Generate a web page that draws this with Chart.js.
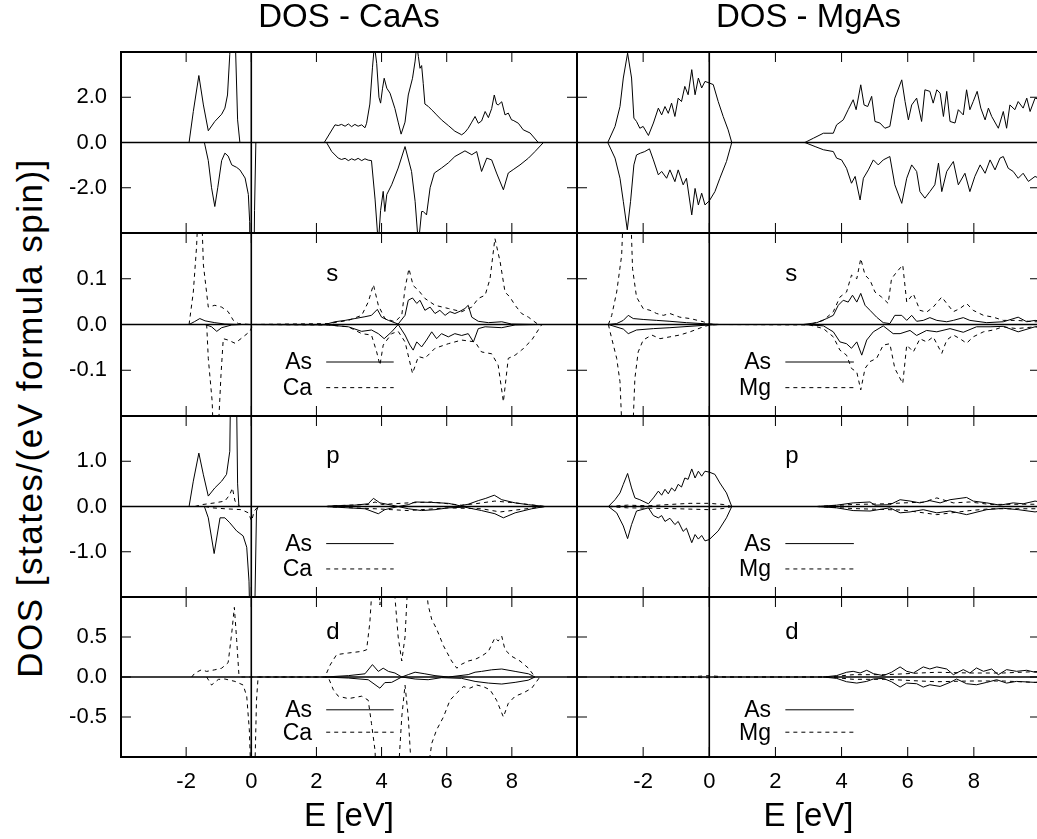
<!DOCTYPE html>
<html><head><meta charset="utf-8">
<script src="https://cdn.jsdelivr.net/npm/chart.js@4.4.1/dist/chart.umd.min.js"></script>
<style>
html,body{margin:0;padding:0;background:#fff;overflow:hidden}
#wrap{position:relative;width:1037px;height:839px;overflow:hidden;background:#fff}
#wrap canvas{position:absolute;left:0;top:0}
#ylab{position:absolute;left:30px;top:418px;transform:translate(-50%,-50%) rotate(-90deg);font:35px "Liberation Sans",Arial,sans-serif;letter-spacing:1.5px;white-space:nowrap;color:#000}
</style></head><body>
<div id="wrap"><div id="ylab">DOS [states/(eV formula spin)]</div></div>
<script>
// ---------- data: [E (eV), DOS] pairs ----------
const caTotUp = [[-1.91,0],[-1.78,1.37],[-1.61,2.96],[-1.47,1.66],[-1.32,0.52],[-1.12,0.93],[-0.91,1.25],[-0.81,1.52],[-0.73,2.1],[-0.66,3.9],[-0.62,6],[-0.52,6],[-0.48,4.0],[-0.42,1.0],[-0.35,0],
[2.24,0],[2.57,0.78],[2.67,0.75],[2.77,0.8],[2.88,0.72],[2.98,0.82],[3.08,0.7],[3.18,0.8],[3.28,0.72],[3.39,0.78],[3.49,0.65],[3.54,0.85],[3.64,1.7],[3.72,3.3],[3.78,4.3],[3.85,3.5],[3.92,2.0],[3.97,1.74],[4.03,2.4],[4.08,2.84],[4.16,2.4],[4.26,2.18],[4.41,1.5],[4.51,0.9],[4.60,0.37],[4.72,0.9],[4.82,2.1],[4.95,2.84],[5.03,3.6],[5.08,4.3],[5.13,3.8],[5.18,3.28],[5.23,3.4],[5.28,2.6],[5.33,1.7],[5.43,1.6],[5.54,1.44],[5.64,1.3],[5.69,1.22],[5.84,1.0],[6.05,0.75],[6.25,0.5],[6.46,0.34],[6.56,0.45],[6.66,0.63],[6.77,0.9],[6.87,1.15],[6.97,0.85],[7.07,0.95],[7.18,1.37],[7.28,1.1],[7.38,1.5],[7.46,2.1],[7.53,1.7],[7.58,1.66],[7.69,1.8],[7.79,1.22],[7.89,1.3],[7.99,1.0],[8.04,0.98],[8.20,0.85],[8.35,0.56],[8.56,0.42],[8.81,0]];
const caTotDn = [[-1.44,0],[-1.32,-0.8],[-1.22,-2.0],[-1.12,-2.83],[-1.03,-2.0],[-0.91,-0.8],[-0.81,-0.47],[-0.71,-0.6],[-0.6,-0.99],[-0.45,-1.1],[-0.35,-1.21],[-0.19,-1.57],[-0.09,-2.3],[-0.05,-3.5],[-0.03,-7],[0.07,-7],[0.1,-3],[0.14,0],
[2.31,0],[2.47,-0.4],[2.67,-0.69],[2.77,-0.75],[2.88,-0.7],[2.98,-0.8],[3.08,-0.72],[3.18,-0.78],[3.28,-0.7],[3.39,-0.8],[3.49,-0.72],[3.59,-0.78],[3.69,-0.8],[3.8,-2.5],[3.9,-4.5],[3.97,-3.0],[4.05,-2.16],[4.1,-3.05],[4.16,-2.3],[4.31,-1.87],[4.51,-1.13],[4.72,-0.18],[4.92,-1.28],[5.03,-2.6],[5.13,-4.5],[5.23,-3.05],[5.28,-3.05],[5.38,-3.2],[5.49,-2.0],[5.62,-1.35],[5.84,-1.13],[6.05,-0.9],[6.25,-0.62],[6.56,-0.37],[6.77,-0.54],[6.92,-0.4],[7.07,-1.28],[7.23,-0.69],[7.38,-0.77],[7.53,-1.35],[7.74,-2.09],[7.89,-1.35],[8.04,-1.2],[8.25,-0.99],[8.51,-0.69],[8.71,-0.4],[8.97,0]];
const mgTotUp = [[-3.07,0],[-2.85,0.71],[-2.7,1.59],[-2.6,2.85],[-2.47,3.95],[-2.35,2.85],[-2.28,1.08],[-2.2,0.93],[-2.1,0.63],[-2.0,0.71],[-1.84,0.31],[-1.69,0.86],[-1.54,1.52],[-1.44,1.22],[-1.34,1.59],[-1.24,1.29],[-1.14,1.74],[-1.04,1.15],[-0.94,1.96],[-0.84,1.81],[-0.74,2.48],[-0.64,2.11],[-0.53,3.22],[-0.43,2.11],[-0.33,2.85],[-0.23,2.41],[-0.13,2.7],[0,2.63],[0.12,2.56],[0.27,1.81],[0.42,1.15],[0.57,0.56],[0.68,0],
[2.89,0],[3.15,0.19],[3.45,0.41],[3.75,0.41],[3.85,0.78],[4.05,1.0],[4.2,1.45],[4.35,1.89],[4.44,1.45],[4.58,2.55],[4.68,1.66],[4.79,1.59],[4.91,2.04],[5.01,0.93],[5.16,0.86],[5.31,0.63],[5.46,0.71],[5.61,1.96],[5.82,2.77],[5.92,1.81],[6.02,1.0],[6.12,1.66],[6.27,1.96],[6.42,0.93],[6.52,2.33],[6.67,2.26],[6.77,1.74],[6.88,2.33],[6.98,2.18],[7.08,1.15],[7.18,2.26],[7.28,0.93],[7.43,0.86],[7.53,1.45],[7.68,1.22],[7.78,2.33],[7.88,1.45],[7.98,1.81],[8.1,2.26],[8.21,1.52],[8.34,1.0],[8.44,1.52],[8.54,1.15],[8.74,0.63],[8.89,1.37],[8.99,0.63],[9.09,1.66],[9.24,1.45],[9.34,1.81],[9.49,1.52],[9.6,1.96],[9.7,1.37],[9.85,1.96],[10,1.9]];
const mgTotDn = [[-3.07,0],[-2.85,-0.69],[-2.7,-1.58],[-2.6,-2.6],[-2.48,-3.86],[-2.38,-2.6],[-2.28,-0.99],[-2.2,-0.55],[-2.08,-0.47],[-1.95,-0.4],[-1.81,-0.28],[-1.69,-0.77],[-1.54,-1.43],[-1.44,-1.28],[-1.29,-1.58],[-1.19,-1.21],[-1.04,-1.73],[-0.94,-1.21],[-0.79,-1.87],[-0.69,-1.58],[-0.53,-3.2],[-0.43,-2.03],[-0.33,-2.76],[-0.23,-2.24],[-0.13,-2.76],[0,-2.58],[0.17,-2.17],[0.32,-1.58],[0.52,-0.84],[0.68,0],
[2.89,0],[3.2,-0.18],[3.45,-0.32],[3.75,-0.4],[3.85,-0.69],[4.0,-0.77],[4.15,-1.14],[4.3,-1.8],[4.41,-1.5],[4.56,-2.54],[4.66,-1.58],[4.81,-1.21],[4.96,-0.77],[5.11,-0.99],[5.26,-0.77],[5.46,-0.62],[5.61,-1.87],[5.82,-2.69],[5.97,-1.58],[6.12,-0.99],[6.27,-1.28],[6.37,-2.17],[6.52,-2.46],[6.67,-2.17],[6.82,-1.87],[6.93,-0.91],[7.03,-2.17],[7.18,-1.28],[7.38,-0.84],[7.53,-1.87],[7.73,-1.36],[7.88,-2.17],[8.03,-1.5],[8.19,-0.99],[8.34,-1.36],[8.49,-0.77],[8.64,-1.21],[8.79,-0.69],[8.89,-0.62],[9.04,-1.14],[9.19,-1.28],[9.34,-1.58],[9.49,-1.36],[9.65,-1.72],[9.85,-1.5],[10,-1.6]];

const caAsSUp = [[-1.91,0],[-1.75,0.006],[-1.58,0.013],[-1.42,0.008],[-1.12,0.004],[-0.81,0.001],[-0.4,0],
[2.26,0],[2.57,0.006],[2.88,0.009],[3.18,0.013],[3.49,0.017],[3.69,0.02],[3.87,0.033],[4.0,0.016],[4.21,0.009],[4.51,0.001],[4.72,0.02],[4.82,0.053],[4.95,0.058],[5.08,0.046],[5.18,0.053],[5.33,0.031],[5.49,0.038],[5.64,0.024],[5.79,0.031],[5.95,0.02],[6.1,0.028],[6.25,0.024],[6.41,0.029],[6.56,0.035],[6.66,0.042],[6.77,0.016],[6.97,0.007],[7.28,0.004],[7.69,0.006],[7.99,0.001],[8.81,0]];
const caAsSDn = [[-1.42,0],[-1.22,-0.005],[-1.06,-0.015],[-0.91,-0.007],[-0.6,-0.001],[-0.3,0],
[2.36,-0.001],[2.98,-0.005],[3.39,-0.015],[3.69,-0.012],[3.9,-0.02],[4.08,-0.031],[4.31,-0.016],[4.51,0],[4.72,-0.023],[4.87,-0.045],[4.97,-0.056],[5.08,-0.038],[5.23,-0.049],[5.38,-0.034],[5.54,-0.016],[5.69,-0.031],[5.84,-0.02],[6.05,-0.027],[6.25,-0.02],[6.46,-0.024],[6.66,-0.02],[6.82,-0.038],[6.97,-0.009],[7.18,-0.005],[7.69,-0.007],[8.1,-0.001],[8.8,0]];
const caCaSUp = [[-1.91,0],[-1.78,0.071],[-1.68,0.17],[-1.6,0.3],[-1.55,0.3],[-1.47,0.13],[-1.32,0.038],[-1.12,0.042],[-0.91,0.038],[-0.71,0.028],[-0.55,0.009],[-0.4,0.002],[-0.04,0],
[2.36,0.002],[2.98,0.009],[3.39,0.02],[3.59,0.049],[3.75,0.087],[3.9,0.042],[4.1,0.013],[4.41,0.006],[4.62,0.02],[4.72,0.079],[4.84,0.122],[4.97,0.085],[5.13,0.075],[5.33,0.057],[5.64,0.042],[6.05,0.035],[6.46,0.028],[6.77,0.038],[6.97,0.057],[7.18,0.064],[7.33,0.1],[7.48,0.188],[7.64,0.137],[7.79,0.071],[7.94,0.06],[8.1,0.042],[8.3,0.024],[8.51,0.016],[8.81,0]];
const caCaSDn = [[-1.37,0],[-1.32,-0.074],[-1.2,-0.169],[-1.14,-0.3],[-1.06,-0.3],[-0.93,-0.11],[-0.86,-0.031],[-0.71,-0.034],[-0.5,-0.041],[-0.3,-0.03],[-0.04,-0.015],[0.05,0],
[2.36,-0.001],[2.98,-0.005],[3.39,-0.02],[3.69,-0.023],[3.85,-0.06],[3.95,-0.089],[4.05,-0.045],[4.31,-0.02],[4.51,-0.015],[4.72,-0.038],[4.95,-0.107],[5.13,-0.07],[5.33,-0.074],[5.64,-0.052],[6.05,-0.042],[6.46,-0.034],[6.87,-0.038],[7.07,-0.06],[7.38,-0.064],[7.58,-0.089],[7.74,-0.169],[7.89,-0.074],[8.1,-0.067],[8.3,-0.056],[8.61,-0.034],[8.92,0]];

const mgAsSUp = [[-3.05,0],[-2.8,0.002],[-2.6,0.009],[-2.45,0.02],[-2.3,0.013],[-2.0,0.011],[-1.59,0.009],[-1.19,0.007],[-0.69,0.004],[0,0.001],[0.3,0],
[2.84,0],[3.25,0.004],[3.55,0.013],[3.75,0.02],[3.9,0.042],[4.05,0.053],[4.2,0.049],[4.33,0.064],[4.46,0.049],[4.58,0.068],[4.71,0.042],[4.86,0.031],[5.06,0.016],[5.26,0.004],[5.46,0.002],[5.61,0.02],[5.82,0.02],[5.97,0.009],[6.12,0.02],[6.27,0.007],[6.47,0.009],[6.67,0.015],[6.88,0.009],[7.18,0.006],[7.38,0.009],[7.68,0.015],[7.88,0.009],[8.39,0.004],[8.89,0.006],[9.34,0.016],[9.6,0.006],[9.85,0.009],[10,0.008]];
const mgAsSDn = [[-3.05,0],[-2.6,-0.01],[-2.45,-0.02],[-2.2,-0.012],[-1.69,-0.009],[-1.19,-0.007],[0,-0.001],[0.3,0],
[2.84,0],[3.45,-0.003],[3.75,-0.016],[3.95,-0.038],[4.15,-0.042],[4.3,-0.052],[4.46,-0.038],[4.61,-0.067],[4.76,-0.034],[4.96,-0.016],[5.26,-0.003],[5.56,-0.02],[5.77,-0.02],[6.07,-0.013],[6.27,-0.024],[6.57,-0.013],[6.88,-0.016],[7.28,-0.009],[7.68,-0.017],[8.08,-0.005],[8.49,-0.005],[8.89,-0.004],[9.34,-0.016],[9.85,-0.005],[10,-0.006]];
const mgMgSUp = [[-3.05,0],[-2.95,0.02],[-2.8,0.071],[-2.65,0.151],[-2.57,0.3],[-2.4,0.3],[-2.32,0.122],[-2.2,0.06],[-2.0,0.035],[-1.79,0.031],[-1.59,0.024],[-1.39,0.02],[-1.19,0.024],[-0.89,0.016],[-0.58,0.013],[-0.18,0.006],[0.02,0.001],[0.3,0],
[3.04,0],[3.45,0.009],[3.75,0.028],[3.95,0.06],[4.15,0.071],[4.3,0.108],[4.46,0.1],[4.58,0.144],[4.71,0.108],[4.86,0.097],[5.01,0.071],[5.21,0.06],[5.41,0.046],[5.51,0.1],[5.67,0.115],[5.85,0.13],[5.97,0.049],[6.17,0.067],[6.37,0.031],[6.57,0.027],[6.77,0.038],[7.03,0.06],[7.18,0.046],[7.38,0.028],[7.58,0.035],[7.78,0.046],[7.98,0.031],[8.29,0.02],[8.59,0.016],[8.89,0.009],[9.29,0.009],[9.85,0.006],[10,0.006]];
const mgMgSDn = [[-3.05,0],[-3.0,-0.016],[-2.8,-0.074],[-2.7,-0.125],[-2.6,-0.3],[-2.35,-0.3],[-2.25,-0.118],[-2.15,-0.06],[-2.0,-0.034],[-1.74,-0.023],[-1.49,-0.031],[-1.19,-0.027],[-0.89,-0.023],[-0.58,-0.016],[-0.18,-0.005],[0.02,-0.001],[0.3,0],
[3.04,-0.001],[3.45,-0.009],[3.75,-0.027],[3.95,-0.056],[4.15,-0.067],[4.3,-0.096],[4.46,-0.104],[4.58,-0.143],[4.71,-0.096],[4.86,-0.081],[5.06,-0.074],[5.26,-0.045],[5.46,-0.042],[5.61,-0.096],[5.85,-0.129],[5.97,-0.045],[6.17,-0.06],[6.37,-0.031],[6.57,-0.038],[6.77,-0.027],[7.03,-0.063],[7.18,-0.034],[7.38,-0.023],[7.58,-0.031],[7.78,-0.041],[7.98,-0.027],[8.29,-0.016],[8.59,-0.012],[8.89,-0.005],[9.29,-0.009],[9.85,-0.005],[10,-0.005]];

const caAsPUp = [[-1.91,0],[-1.78,0.56],[-1.61,1.18],[-1.47,0.7],[-1.32,0.23],[-1.12,0.41],[-0.91,0.56],[-0.76,0.71],[-0.66,1.22],[-0.62,3.5],[-0.47,3.5],[-0.42,0.5],[-0.38,0],
[2.3,0],[2.47,0.015],[3.18,0.03],[3.59,0.06],[3.75,0.18],[3.95,0.08],[4.31,0.03],[4.51,0],[4.82,0.04],[5.03,0.1],[5.54,0.09],[6.05,0.07],[6.41,0.015],[6.66,0.05],[6.97,0.13],[7.2,0.18],[7.46,0.25],[7.69,0.15],[8.1,0.08],[8.51,0.04],[9.02,0]];
const caAsPDn = [[-1.44,0],[-1.32,-0.25],[-1.14,-1.04],[-0.96,-0.25],[-0.81,-0.25],[-0.66,-0.36],[-0.45,-0.54],[-0.25,-0.65],[-0.14,-0.9],[-0.07,-1.65],[-0.03,-3],[0.09,-3],[0.16,-0.1],[0.21,0],
[2.3,0],[2.47,-0.01],[3.49,-0.05],[3.9,-0.16],[4.1,-0.07],[4.51,0],[4.82,-0.05],[5.23,-0.09],[5.64,-0.07],[6.05,-0.03],[6.56,-0.015],[7.07,-0.09],[7.48,-0.16],[7.74,-0.25],[8.1,-0.14],[8.61,-0.05],[9.02,0]];
const caCaPUp = [[-1.73,0],[-1.53,0.04],[-1.12,0.08],[-0.81,0.12],[-0.66,0.26],[-0.58,0.41],[-0.5,0.12],[-0.35,0],
[2.3,0],[2.47,0.015],[3.59,0.045],[3.8,0.1],[4.0,0.045],[4.82,0.08],[5.54,0.1],[6.05,0.06],[6.46,0.03],[6.87,0.06],[7.48,0.12],[8.1,0.08],[9.02,0]];
const caCaPDn = [[-1.42,0],[-1.2,-0.03],[-0.81,-0.05],[-0.3,-0.07],[-0.09,-0.14],[0.01,-0.32],[0.09,-0.1],[0.21,0],
[2.3,0],[2.47,-0.01],[3.8,-0.05],[4.82,-0.09],[6.05,-0.03],[7.07,-0.05],[7.64,-0.12],[9.02,0]];

const mgAsPUp = [[-3.05,0],[-2.85,0.15],[-2.7,0.3],[-2.6,0.49],[-2.47,0.73],[-2.35,0.41],[-2.25,0.19],[-2.1,0.15],[-1.84,0.06],[-1.69,0.19],[-1.54,0.34],[-1.44,0.25],[-1.34,0.38],[-1.24,0.28],[-1.14,0.41],[-1.04,0.34],[-0.94,0.49],[-0.84,0.43],[-0.74,0.63],[-0.64,0.6],[-0.53,0.83],[-0.43,0.63],[-0.33,0.78],[-0.23,0.67],[-0.13,0.78],[0,0.76],[0.17,0.71],[0.32,0.52],[0.52,0.3],[0.68,0],
[3.25,0],[3.85,0.03],[4.35,0.08],[4.86,0.1],[5.01,0.03],[5.46,0.04],[5.77,0.15],[6.07,0.12],[6.37,0.08],[6.67,0.13],[6.98,0.08],[7.28,0.15],[7.78,0.2],[7.98,0.12],[8.39,0.08],[8.79,0.03],[9.19,0.08],[9.49,0.06],[9.85,0.12],[10,0.1]];
const mgAsPDn = [[-3.05,0],[-2.8,-0.14],[-2.6,-0.43],[-2.47,-0.71],[-2.35,-0.4],[-2.2,-0.1],[-1.84,-0.03],[-1.69,-0.2],[-1.54,-0.25],[-1.44,-0.2],[-1.34,-0.33],[-1.19,-0.26],[-1.04,-0.4],[-0.94,-0.33],[-0.79,-0.55],[-0.69,-0.48],[-0.53,-0.8],[-0.43,-0.62],[-0.33,-0.72],[-0.23,-0.64],[-0.13,-0.76],[0,-0.73],[0.27,-0.54],[0.52,-0.25],[0.68,0],
[3.25,0],[3.85,-0.03],[4.35,-0.09],[4.86,-0.1],[5.46,-0.03],[5.77,-0.14],[6.07,-0.12],[6.47,-0.07],[6.88,-0.14],[7.28,-0.1],[7.78,-0.18],[8.39,-0.07],[8.89,-0.04],[9.34,-0.07],[9.85,-0.12],[10,-0.1]];
const mgMgPUp = [[-3.05,0],[-2.47,0.03],[-1.84,0.015],[-1.19,0.045],[-0.58,0.07],[0,0.07],[0.42,0.045],[0.68,0],
[3.25,0],[4.35,0.045],[5.36,0.06],[5.87,0.08],[6.47,0.095],[6.88,0.19],[7.38,0.08],[7.88,0.1],[8.49,0.045],[9.5,0.05],[10,0.05]];
const mgMgPDn = [[-3.05,0],[-2.47,-0.03],[-1.19,-0.045],[0,-0.07],[0.42,-0.045],[0.68,0],
[3.25,0],[4.35,-0.045],[5.87,-0.08],[6.88,-0.18],[7.88,-0.09],[8.5,-0.05],[10,-0.05]];

const caAsDUp = [[2.26,0],[2.98,0.017],[3.49,0.04],[3.72,0.155],[3.9,0.07],[4.05,0.11],[4.21,0.07],[4.41,0.05],[4.62,0],[4.82,0.03],[5.03,0.06],[5.33,0.04],[5.64,0.017],[6.05,0],[6.66,0.03],[6.87,0.06],[7.07,0.07],[7.38,0.09],[7.69,0.1],[8.1,0.07],[8.51,0.04],[8.71,0]];
const caAsDDn = [[2.26,0],[2.98,-0.013],[3.59,-0.034],[3.95,-0.14],[4.1,-0.07],[4.31,-0.067],[4.62,0],[5.03,-0.025],[5.43,-0.034],[5.84,-0.008],[6.46,-0.017],[6.87,-0.055],[7.28,-0.076],[7.69,-0.088],[8.1,-0.067],[8.5,-0.04],[8.71,0]];
const caCaDUp = [[-1.83,0],[-1.73,0.05],[-1.53,0.09],[-1.37,0.07],[-1.12,0.09],[-0.91,0.11],[-0.71,0.18],[-0.6,0.55],[-0.52,0.87],[-0.45,0.47],[-0.38,0.03],[-0.3,0],
[2.26,0],[2.42,0.15],[2.62,0.28],[2.98,0.3],[3.39,0.32],[3.54,0.34],[3.64,0.68],[3.72,1.2],[3.85,1.6],[3.95,0.9],[4.05,1.5],[4.3,1.8],[4.41,1.0],[4.51,0.5],[4.62,0.2],[4.72,0.5],[4.82,1.3],[5.0,2.0],[5.3,1.4],[5.43,0.9],[5.54,0.72],[5.69,0.6],[5.9,0.39],[6.15,0.2],[6.31,0.11],[6.46,0.16],[6.66,0.2],[6.87,0.22],[7.07,0.26],[7.28,0.32],[7.48,0.49],[7.58,0.45],[7.69,0.51],[7.79,0.34],[7.99,0.26],[8.25,0.2],[8.51,0.11],[8.71,0]];
const caCaDDn = [[-1.37,0],[-1.22,-0.1],[-1.01,-0.03],[-0.81,-0.025],[-0.5,-0.055],[-0.25,-0.1],[-0.14,-0.24],[-0.06,-0.66],[0.01,-1.5],[0.09,-1.5],[0.16,-0.29],[0.21,0],
[2.36,0],[2.52,-0.16],[2.67,-0.24],[2.98,-0.27],[3.39,-0.24],[3.59,-0.29],[3.69,-0.58],[3.8,-0.92],[3.85,-1.5],[4.2,-1.8],[4.5,-1.3],[4.62,-0.5],[4.72,-0.1],[4.82,-0.5],[4.92,-1.2],[5.2,-1.8],[5.45,-1.1],[5.54,-0.83],[5.69,-0.66],[5.9,-0.5],[6.1,-0.29],[6.31,-0.2],[6.51,-0.12],[6.71,-0.14],[6.92,-0.1],[7.12,-0.12],[7.33,-0.16],[7.53,-0.29],[7.74,-0.5],[7.89,-0.33],[8.1,-0.24],[8.35,-0.2],[8.61,-0.14],[8.86,0]];

const mgAsDUp = [[3.45,0],[3.85,0.017],[4.15,0.059],[4.35,0.071],[4.56,0.05],[4.76,0.084],[4.96,0.042],[5.26,0.017],[5.51,0.059],[5.77,0.126],[5.97,0.071],[6.17,0.05],[6.47,0.126],[6.67,0.1],[6.88,0.126],[7.18,0.1],[7.38,0.029],[7.68,0.092],[7.88,0.05],[8.08,0.113],[8.29,0.071],[8.54,0.1],[8.74,0.029],[8.99,0.092],[9.29,0.071],[9.6,0.084],[9.85,0.059],[10,0.06]];
const mgAsDDn = [[3.45,0],[3.85,-0.017],[4.15,-0.059],[4.46,-0.076],[4.76,-0.055],[4.96,-0.025],[5.26,-0.017],[5.51,-0.059],[5.77,-0.126],[5.97,-0.076],[6.27,-0.084],[6.47,-0.126],[6.67,-0.097],[6.98,-0.118],[7.28,-0.067],[7.48,-0.025],[7.78,-0.084],[8.08,-0.097],[8.39,-0.067],[8.69,-0.034],[8.99,-0.076],[9.29,-0.055],[9.85,-0.067],[10,-0.06]];
const mgMgDUp = [[-3.0,0],[-0.5,0.005],[0,0.017],[0.5,0],[3.6,0],[4.35,0.029],[5.36,0.029],[6.37,0.05],[6.88,0.059],[7.88,0.05],[8.89,0.05],[10,0.07]];
const mgMgDDn = [[-3.0,0],[-0.5,-0.005],[0,-0.01],[0.5,0],[3.6,0],[4.35,-0.029],[5.36,-0.029],[6.37,-0.05],[6.88,-0.059],[7.88,-0.05],[8.89,-0.05],[10,-0.07]];

// axis ranges / tick steps
const eRange = [-4, 10], eStep = 2;
const rowRanges = [[-4, 4, 2], [-0.2, 0.2, 0.1], [-2, 2, 1], [-1, 1, 0.5]];
const colTitles = ['DOS - CaAs', 'DOS - MgAs'];
const orbitalTags = ['', 's', 'p', 'd'];

const panels = [
  {row:0,col:0,sets:[['CaAs',caTotUp,0],['CaAs',caTotDn,0]]},
  {row:0,col:1,sets:[['MgAs',mgTotUp,0],['MgAs',mgTotDn,0]]},
  {row:1,col:0,sets:[['As',caAsSUp,0],['As',caAsSDn,0],['Ca',caCaSUp,1],['Ca',caCaSDn,1]]},
  {row:1,col:1,sets:[['As',mgAsSUp,0],['As',mgAsSDn,0],['Mg',mgMgSUp,1],['Mg',mgMgSDn,1]]},
  {row:2,col:0,sets:[['As',caAsPUp,0],['As',caAsPDn,0],['Ca',caCaPUp,1],['Ca',caCaPDn,1]]},
  {row:2,col:1,sets:[['As',mgAsPUp,0],['As',mgAsPDn,0],['Mg',mgMgPUp,1],['Mg',mgMgPDn,1]]},
  {row:3,col:0,sets:[['As',caAsDUp,0],['As',caAsDDn,0],['Ca',caCaDUp,1],['Ca',caCaDDn,1]]},
  {row:3,col:1,sets:[['As',mgAsDUp,0],['As',mgAsDDn,0],['Mg',mgMgDUp,1],['Mg',mgMgDDn,1]]}
];

// ---------- layout / style ----------
const FONT = '"Liberation Sans", Arial, sans-serif';
const CW = 1070, CH = 839;
const COLS = [{L:121, R:577}, {L:577, R:1040}];
const ROWS = [{T:52, B:233}, {T:233, B:416}, {T:416, B:597}, {T:597, B:757}];
const YW = 70, XH = 80;
Chart.defaults.font.family = FONT;
Chart.defaults.color = '#000';

const decor = {
  id: 'decor',
  afterDatasetsDraw(chart, args, o) {
    const {ctx, chartArea: a} = chart;
    const xs = chart.scales.x, ys = chart.scales.y;
    const w = a.right - a.left, h = a.bottom - a.top;
    const seg = (x1, y1, x2, y2) => { ctx.beginPath(); ctx.moveTo(x1, y1); ctx.lineTo(x2, y2); ctx.stroke(); };
    ctx.save();
    ctx.strokeStyle = '#000'; ctx.fillStyle = '#000'; ctx.setLineDash([]);
    ctx.lineWidth = 1.6;
    const y0 = ys.getPixelForValue(0), x0 = xs.getPixelForValue(0);
    seg(a.left, y0, a.right, y0);
    seg(x0, a.top, x0, a.bottom);
    ctx.lineWidth = 1;
    const TL = 10;
    xs.ticks.forEach(t => {
      if (t.value <= xs.min || t.value >= xs.max) return;
      const p = xs.getPixelForValue(t.value);
      seg(p, a.bottom, p, a.bottom - TL); seg(p, a.top, p, a.top + TL);
    });
    ys.ticks.forEach(t => {
      if (t.value <= ys.min + 1e-9 || t.value >= ys.max - 1e-9) return;
      const p = ys.getPixelForValue(t.value);
      seg(a.left, p, a.left + TL, p); seg(a.right, p, a.right - TL, p);
    });
    ctx.lineWidth = 2;
    ctx.strokeRect(a.left, a.top, w, h);
    if (o.tag) {
      ctx.font = '24px ' + FONT; ctx.textAlign = 'left'; ctx.textBaseline = 'alphabetic';
      ctx.fillText(o.tag, a.left + 0.45 * w, a.top + 0.26 * h);
      const seen = [];
      chart.data.datasets.forEach(ds => { if (!seen.find(s => s.label === ds.label)) seen.push(ds); });
      ctx.font = '23px ' + FONT; ctx.textBaseline = 'middle';
      seen.forEach((ds, i) => {
        const yy = a.top + (i === 0 ? 0.705 : 0.845) * h;
        ctx.textAlign = 'right';
        ctx.fillText(ds.label, a.left + 0.419 * w, yy + 1);
        ctx.lineWidth = 1; ctx.setLineDash(ds.borderDash || []);
        seg(a.left + 0.45 * w, yy, a.left + 0.598 * w, yy);
        ctx.setLineDash([]);
      });
    }
    ctx.restore();
  }
};

const wrap = document.getElementById('wrap');
panels.forEach(p => {
  const c = document.createElement('canvas');
  c.width = CW; c.height = CH;
  c.style.width = CW + 'px'; c.style.height = CH + 'px';
  wrap.appendChild(c);
  const col = COLS[p.col], row = ROWS[p.row];
  const [ymin, ymax, ystep] = rowRanges[p.row];
  const showX = p.row === 3, showY = p.col === 0;
  const xAxis = {
    type: 'linear', min: eRange[0], max: eRange[1], display: showX,
    grid: {display: false, drawTicks: false}, border: {display: false},
    ticks: {stepSize: eStep, autoSkip: false, maxRotation: 0, padding: 11.5, color: '#000',
      font: {family: FONT, size: 22},
      callback: v => (v <= eRange[0] || v >= eRange[1]) ? '' : String(v)},
    title: {display: true, text: 'E [eV]', color: '#000', font: {family: FONT, size: 33}, padding: {top: 0, bottom: 0}}
  };
  if (showX) xAxis.afterFit = s => { s.height = XH; };
  const yAxis = {
    type: 'linear', min: ymin, max: ymax, display: showY,
    grid: {display: false, drawTicks: false}, border: {display: false},
    ticks: {stepSize: ystep, autoSkip: false, padding: 14, color: '#000',
      font: {family: FONT, size: 22},
      callback: v => (Math.abs(Math.abs(v) - ymax) < 1e-9) ? '' : Number(v).toFixed(1)}
  };
  if (showY) yAxis.afterFit = s => { s.width = YW; };
  new Chart(c.getContext('2d'), {
    type: 'line',
    data: {datasets: p.sets.map(s => ({
      label: s[0],
      data: s[1].map(q => ({x: q[0], y: q[1]})),
      borderColor: '#000', borderWidth: 1, borderDash: s[2] ? [4, 4] : [],
      pointRadius: 0, tension: 0, fill: false
    }))},
    options: {
      responsive: false, animation: false, events: [], devicePixelRatio: 1,
      layout: {padding: {
        left: showY ? col.L - YW : col.L,
        right: CW - col.R,
        top: p.row === 0 ? 0 : row.T,
        bottom: showX ? CH - row.B - XH : CH - row.B}},
      plugins: {
        legend: {display: false}, tooltip: {enabled: false},
        title: p.row === 0 ? {display: true, text: colTitles[p.col], fullSize: false, align: 'center', color: '#000',
          font: {family: FONT, size: 33, weight: 'normal', lineHeight: 1}, padding: {top: 1, bottom: 18}} : {display: false},
        decor: {tag: orbitalTags[p.row]}
      },
      scales: {x: xAxis, y: yAxis}
    },
    plugins: [decor]
  });
});
</script>
</body></html>
